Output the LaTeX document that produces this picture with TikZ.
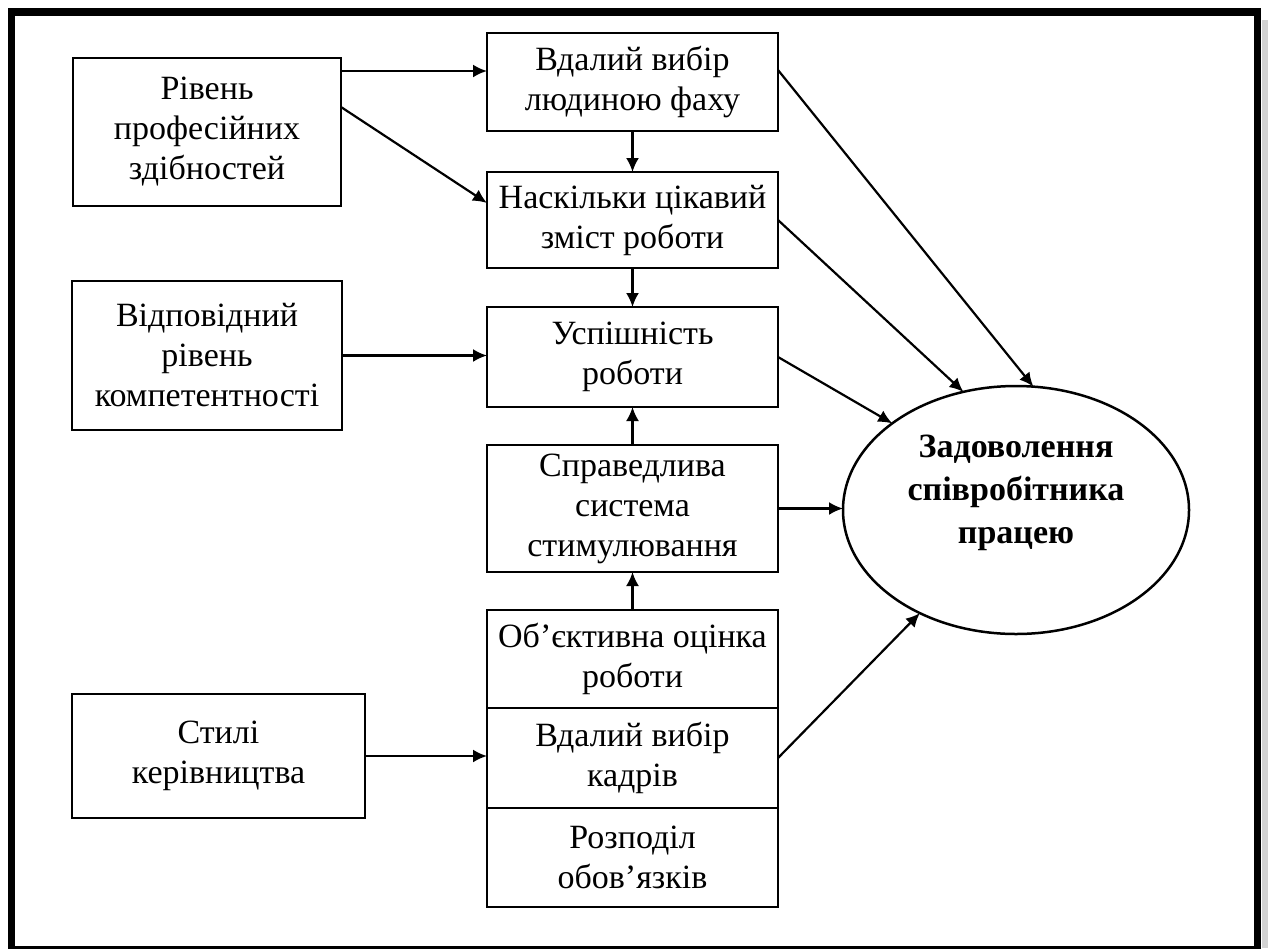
\documentclass[tikz,border=0pt]{standalone}
\usepackage{fontspec}
\setmainfont{Liberation Serif}
\usepackage{tikz}
\usetikzlibrary{arrows.meta,positioning,shapes.geometric,calc}

\begin{document}
\begin{tikzpicture}[x=1pt, y=-1pt, node distance=38pt,
    box/.style={draw, line width=2.5pt, outer sep=0pt, inner sep=0pt, align=center,
        font=\fontsize{34}{40}\selectfont},
    midbox/.style={box, minimum width=291pt},
    goal/.style={ellipse, draw, line width=2.5pt, outer sep=0pt, inner sep=0pt,
        minimum width=346pt, minimum height=248pt},
    arr/.style={-{Latex[length=14pt,width=13pt]}, line width=2.2pt}]
    \useasboundingbox (0,0) rectangle (1268,948);
    \fill[gray!35] (1262,20) rectangle (1268,948);
    \draw[line width=7.5pt] (11.5,12) rectangle (1257.5,950);

    \node[midbox, minimum height=98pt] (fach) at (632.5,82) {Вдалий вибір\\людиною фаху};
    \node[midbox, minimum height=96pt, below=41pt of fach] (zmist) {Наскільки цікавий\\зміст роботи};
    \node[midbox, minimum height=100pt, below=39pt of zmist] (uspih) {Успішність\\роботи};
    \node[midbox, minimum height=127pt, below=of uspih] (fair) {Справедлива\\система\\стимулювання};
    \node[midbox, minimum height=98pt, below=of fair] (ocinka) {Об’єктивна оцінка\\роботи};
    \node[midbox, minimum height=100pt, below=0pt of ocinka] (kadry) {Вдалий вибір\\кадрів};
    \node[midbox, minimum height=99pt, below=0pt of kadry] (rozpodil) {Розподіл\\обов’язків};

    \node[box, minimum width=268pt, minimum height=148pt] (zdib) at (207,132) {Рівень\\професійних\\здібностей};
    \node[box, minimum width=270pt, minimum height=149pt] (kompet) at (207,355.5) {Відповідний\\рівень\\компетентності};
    \node[box, minimum width=293pt, minimum height=124pt] (styli) at (218.5,756) {Стилі\\керівництва};

    \node[goal] (sat) at (1016,510) {};
    \node[align=center, font=\bfseries\fontsize{34}{43}\selectfont] (sattext) at ([yshift=17pt]sat.center)
        {Задоволення\\співробітника\\працею};

    \draw[arr] ([yshift=-13pt]zdib.north east) -- ([yshift=-13pt]zdib.north east -| fach.west);
    \draw[arr] ([yshift=-49pt]zdib.north east) -- ([yshift=17pt]zmist.west);
    \draw[arr] (fach) -- (zmist);
    \draw[arr] (zmist) -- (uspih);
    \draw[arr] (kompet.east) -- (kompet.east -| uspih.west);
    \draw[arr] (fair) -- (uspih);
    \draw[arr] (ocinka) -- (fair);
    \draw[arr] (styli.east) -- (styli.east -| kadry.west);

    \draw[arr] ([yshift=12pt]fach.east) -- (sat.82);
    \draw[arr] (zmist.east) -- (sat.114);
    \draw[arr] (uspih.east) -- (sat.145);
    \draw[arr] (fair.east) -- (fair.east -| sat.west);
    \draw[arr] (kadry.east) -- (sat.227);
\end{tikzpicture}
\end{document}
